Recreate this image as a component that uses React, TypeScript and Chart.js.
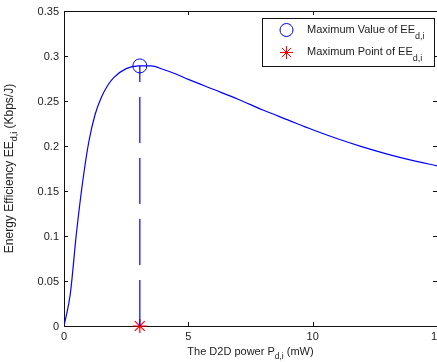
import { useEffect, useRef } from "react";
import { Chart, registerables } from "chart.js";

Chart.register(...registerables);

// D2D power (mW) and energy efficiency (Kbps/J)
const powerMW = [0, 0.25, 0.5, 0.75, 1, 1.25, 1.5, 1.75, 2, 2.5, 3, 3.5, 4, 4.5, 5, 6, 7, 8, 9, 10, 11, 12, 13, 14, 15];
const efficiency = [0, 0.035, 0.103, 0.16, 0.205, 0.235, 0.254, 0.267, 0.276, 0.286, 0.289, 0.289, 0.285, 0.28, 0.274, 0.263, 0.252, 0.24, 0.229, 0.218, 0.208, 0.199, 0.191, 0.184, 0.178];

const optimumPower = 3.05;
const optimumEE = 0.289;

const xTicks = [0, 5, 10, 15];
const xTickLabels = ["0", "5", "10", "15"];
const yTicks = [0, 0.05, 0.1, 0.15, 0.2, 0.25, 0.3, 0.35];
const yTickLabels = ["0", "0.05", "0.1", "0.15", "0.2", "0.25", "0.3", "0.35"];

const legendLabels = ["Maximum Value of EE", "Maximum Point of EE"];
const subLabel = "d,i";
const xTitle = ["The D2D power P", "d,i", " (mW)"];
const yTitle = ["Energy Efficiency EE", "d,i", " (Kbps/J)"];

const FONT = '"Liberation Sans", Arial, Helvetica, sans-serif';
const BLUE = "#0000ff";
const RED = "#ff0000";

function drawSubText(ctx: CanvasRenderingContext2D, parts: string[], x: number, y: number, mainPx: number, subPx: number, subDy: number, align: "left" | "center") {
  const mainFont = `${mainPx}px ${FONT}`;
  const subFont = `${subPx}px ${FONT}`;
  ctx.font = mainFont;
  const w0 = ctx.measureText(parts[0]).width;
  const w2 = parts[2] ? ctx.measureText(parts[2]).width : 0;
  ctx.font = subFont;
  const w1 = ctx.measureText(parts[1]).width;
  const total = w0 + w1 + w2;
  let cx = align === "center" ? x - total / 2 : x;
  ctx.textAlign = "left";
  ctx.textBaseline = "alphabetic";
  ctx.font = mainFont;
  ctx.fillText(parts[0], cx, y);
  cx += w0;
  ctx.font = subFont;
  ctx.fillText(parts[1], cx, y + subDy);
  cx += w1;
  if (parts[2]) {
    ctx.font = mainFont;
    ctx.fillText(parts[2], cx, y);
  }
}

const matlabAxes = {
  id: "matlabAxes",
  beforeDatasetsDraw(chart: any) {
    const ctx: CanvasRenderingContext2D = chart.ctx;
    const { left, right, top, bottom } = chart.chartArea;
    const xs = chart.scales.x;
    const ys = chart.scales.y;
    ctx.save();
    ctx.strokeStyle = "#111";
    ctx.lineWidth = 1;
    ctx.beginPath();
    ctx.moveTo(left + 0.5, top + 0.5);
    ctx.lineTo(right + 0.5, top + 0.5);
    ctx.moveTo(left + 0.5, top);
    ctx.lineTo(left + 0.5, bottom + 1);
    ctx.moveTo(left, bottom + 0.5);
    ctx.lineTo(right + 1, bottom + 0.5);
    ctx.moveTo(right + 0.5, top);
    ctx.lineTo(right + 0.5, bottom + 1);
    xTicks.forEach((v) => {
      const px = Math.round(xs.getPixelForValue(v)) + 0.5;
      ctx.moveTo(px, bottom);
      ctx.lineTo(px, bottom - 4);
      ctx.moveTo(px, top);
      ctx.lineTo(px, top + 4);
    });
    yTicks.forEach((v) => {
      const py = Math.round(ys.getPixelForValue(v)) + 0.5;
      ctx.moveTo(left, py);
      ctx.lineTo(left + 4, py);
      ctx.moveTo(right, py);
      ctx.lineTo(right - 4, py);
    });
    ctx.stroke();

    ctx.fillStyle = "#222";
    ctx.font = `11px ${FONT}`;
    ctx.textAlign = "center";
    ctx.textBaseline = "alphabetic";
    xTicks.forEach((v, i) => {
      ctx.fillText(xTickLabels[i], xs.getPixelForValue(v), bottom + 14);
    });
    ctx.textAlign = "right";
    yTicks.forEach((v, i) => {
      ctx.fillText(yTickLabels[i], left - 5, ys.getPixelForValue(v) + 4);
    });

    drawSubText(ctx, xTitle, (left + right) / 2, 355, 11, 8.5, 4, "center");
    ctx.save();
    ctx.translate(12.5, (top + bottom) / 2);
    ctx.rotate(-Math.PI / 2);
    drawSubText(ctx, yTitle, 0, 0, 12, 9, 4, "center");
    ctx.restore();
    ctx.restore();
  },
  afterDraw(chart: any) {
    const ctx: CanvasRenderingContext2D = chart.ctx;
    ctx.save();
    ctx.lineWidth = 1;
    const bx = 262, by = 18, bw = 172, bh = 48;
    ctx.fillStyle = "#fff";
    ctx.fillRect(bx, by, bw, bh);
    ctx.strokeStyle = "#111";
    ctx.strokeRect(bx + 0.5, by + 0.5, bw, bh);
    ctx.strokeStyle = BLUE;
    ctx.beginPath();
    ctx.arc(286.5, 30, 6.5, 0, Math.PI * 2);
    ctx.stroke();
    ctx.strokeStyle = RED;
    ctx.beginPath();
    const sx = 286.5, sy = 52.5, r = 6.5, d = r * Math.SQRT1_2;
    ctx.moveTo(sx - r, sy); ctx.lineTo(sx + r, sy);
    ctx.moveTo(sx, sy - r); ctx.lineTo(sx, sy + r);
    ctx.moveTo(sx - d, sy - d); ctx.lineTo(sx + d, sy + d);
    ctx.moveTo(sx - d, sy + d); ctx.lineTo(sx + d, sy - d);
    ctx.stroke();
    ctx.fillStyle = "#222";
    drawSubText(ctx, [legendLabels[0], subLabel, ""], 307, 33, 11, 9, 6, "left");
    drawSubText(ctx, [legendLabels[1], subLabel, ""], 307, 55, 11, 9, 6, "left");
    ctx.restore();
  },
};

export default function App() {
  const ref = useRef<HTMLCanvasElement | null>(null);
  useEffect(() => {
    document.body.style.margin = "0";
    const canvas = ref.current;
    if (!canvas) return;
    const curve = powerMW.map((x, i) => ({ x, y: efficiency[i] }));
    const chart = new Chart(canvas, {
      type: "scatter",
      data: {
        datasets: [
          {
            data: curve,
            showLine: true,
            borderColor: BLUE,
            borderWidth: 1.2,
            pointRadius: 0,
            cubicInterpolationMode: "monotone",
          } as any,
          {
            data: [
              { x: optimumPower, y: 0 },
              { x: optimumPower, y: optimumEE },
            ],
            showLine: true,
            borderColor: BLUE,
            borderWidth: 1.2,
            borderDash: [46, 15],
            pointRadius: 0,
          } as any,
          {
            data: [{ x: optimumPower, y: optimumEE }],
            pointStyle: "circle",
            pointRadius: 7,
            borderColor: BLUE,
            backgroundColor: "rgba(0,0,0,0)",
            borderWidth: 1,
            clip: false,
          } as any,
          {
            data: [{ x: optimumPower, y: 0 }],
            pointStyle: "star",
            pointRadius: 7,
            borderColor: RED,
            backgroundColor: RED,
            borderWidth: 1.2,
            clip: false,
          } as any,
        ],
      },
      options: {
        animation: false,
        responsive: false,
        devicePixelRatio: 1,
        layout: { autoPadding: false, padding: { left: 64, top: 11, right: 0, bottom: 36 } },
        plugins: { legend: { display: false }, tooltip: { enabled: false } },
        scales: {
          x: { type: "linear", min: 0, max: 15, display: false },
          y: { type: "linear", min: 0, max: 0.35, display: false },
        },
      } as any,
      plugins: [matlabAxes],
    });
    return () => chart.destroy();
  }, []);
  return <canvas ref={ref} width={437} height={362} style={{ display: "block", width: 437, height: 362 }} />;
}
